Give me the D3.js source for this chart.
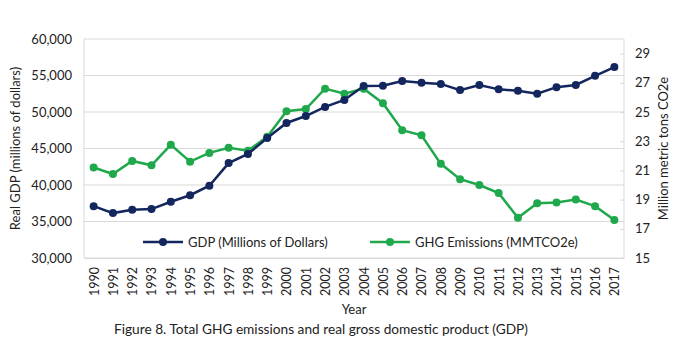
<!DOCTYPE html>
<html>
<head>
<meta charset="utf-8">
<script src="https://cdn.jsdelivr.net/npm/d3@7"></script>
<style>
  body { margin: 0; background: #fff; }
  text { font-family: Lato, "Open Sans", sans-serif; fill: #222; }
</style>
</head>
<body>
<svg id="chart" width="683" height="351"></svg>
<script>
const years = d3.range(1990, 2018);
const gdp = [37100, 36150, 36600, 36700, 37700, 38600, 39900, 43000, 44250, 46450,
             48500, 49450, 50700, 51650, 53550, 53600, 54250, 54000, 53850, 53000,
             53700, 53100, 52900, 52500, 53400, 53700, 54950, 56150];
const ghg = [21.2, 20.75, 21.65, 21.35, 22.75, 21.6, 22.2, 22.55, 22.35, 23.3,
             25.05, 25.2, 26.6, 26.25, 26.6, 25.6, 23.75, 23.4, 21.45, 20.4,
             20.0, 19.45, 17.75, 18.75, 18.8, 19.0, 18.55, 17.6];
const leftTicks = [30000, 35000, 40000, 45000, 50000, 55000, 60000];
const rightTicks = [15, 17, 19, 21, 23, 25, 27, 29];

const gdpColor = "#13275e", ghgColor = "#20a84c";
const plotL = 84, plotR = 624, plotT = 39, plotB = 258;

const svg = d3.select("#chart");

const x = d3.scalePoint().domain(years).range([plotL, plotR]).padding(0.5);
const yL = d3.scaleLinear().domain([30000, 60000]).range([plotB, plotT]);
const yR = d3.scaleLinear().domain([15, 30]).range([plotB, plotT]);

// gridlines
svg.append("g").selectAll("line").data(leftTicks).join("line")
    .attr("x1", plotL).attr("x2", plotR)
    .attr("y1", d => yL(d)).attr("y2", d => yL(d))
    .attr("stroke", "#d9d9d9").attr("stroke-width", 1);
// plot frame sides
svg.append("line").attr("x1", plotL).attr("x2", plotL).attr("y1", plotT).attr("y2", plotB)
    .attr("stroke", "#d9d9d9");
svg.append("line").attr("x1", plotR).attr("x2", plotR).attr("y1", plotT).attr("y2", plotB)
    .attr("stroke", "#d9d9d9");

// left axis
const axL = svg.append("g").attr("transform", `translate(${plotL},0)`)
    .call(d3.axisLeft(yL).tickValues(leftTicks).tickFormat(d3.format(",")).tickSize(0).tickPadding(12));
axL.select(".domain").remove();
axL.selectAll("text").style("font-size", "13px").attr("font-family", null);

// right axis
const axR = svg.append("g").attr("transform", `translate(${plotR},0)`)
    .call(d3.axisRight(yR).tickValues(rightTicks).tickSize(-4).tickPadding(11));
axR.select(".domain").remove();
axR.selectAll("line").attr("stroke", "#d9d9d9");
axR.selectAll("text").style("font-size", "13px").attr("font-family", null);

// x axis
const axX = svg.append("g").attr("transform", `translate(0,${plotB})`)
    .call(d3.axisBottom(x).tickSize(0).tickPadding(0));
axX.select(".domain").attr("stroke", "#d9d9d9");
axX.selectAll("text")
    .style("font-size", "12.5px").attr("font-family", null)
    .attr("transform", "rotate(-90)")
    .attr("text-anchor", "end")
    .attr("dy", "0.35em").attr("x", -9).attr("y", 0);

// lines
const lineL = d3.line().x((d, i) => x(years[i])).y(d => yL(d));
const lineR = d3.line().x((d, i) => x(years[i])).y(d => yR(d));

svg.append("path").datum(ghg).attr("d", lineR)
    .attr("fill", "none").attr("stroke", ghgColor).attr("stroke-width", 2.5);
svg.append("g").selectAll("circle").data(ghg).join("circle")
    .attr("cx", (d, i) => x(years[i])).attr("cy", d => yR(d)).attr("r", 4)
    .attr("fill", ghgColor);

svg.append("path").datum(gdp).attr("d", lineL)
    .attr("fill", "none").attr("stroke", gdpColor).attr("stroke-width", 2.5);
svg.append("g").selectAll("circle").data(gdp).join("circle")
    .attr("cx", (d, i) => x(years[i])).attr("cy", d => yL(d)).attr("r", 4)
    .attr("fill", gdpColor);

// legend
const legend = [
  { label: "GDP (Millions of Dollars)", color: gdpColor, x: 143 },
  { label: "GHG Emissions (MMTCO2e)", color: ghgColor, x: 370 }
];
const lg = svg.append("g").selectAll("g").data(legend).join("g")
    .attr("transform", d => `translate(${d.x},242)`);
lg.append("line").attr("x1", 0).attr("x2", 40)
    .attr("stroke", d => d.color).attr("stroke-width", 2.5);
lg.append("circle").attr("cx", 20).attr("r", 4).attr("fill", d => d.color);
lg.append("text").attr("x", 45).attr("dy", "0.35em")
    .style("font-size", "13px").text(d => d.label);

// titles
svg.append("text").attr("transform", `translate(20,${(plotT + plotB) / 2}) rotate(-90)`)
    .attr("text-anchor", "middle").style("font-size", "13px")
    .text("Real GDP (millions of dollars)");
svg.append("text").attr("transform", `translate(668,${(plotT + plotB) / 2}) rotate(-90)`)
    .attr("text-anchor", "middle").style("font-size", "13px")
    .text("Million metric tons CO2e");
svg.append("text").attr("x", (plotL + plotR) / 2).attr("y", 314)
    .attr("text-anchor", "middle").style("font-size", "13px").text("Year");
svg.append("text").attr("x", 321).attr("y", 334)
    .attr("text-anchor", "middle").style("font-size", "13.7px")
    .text("Figure 8. Total GHG emissions and real gross domestic product (GDP)");
</script>
</body>
</html>
